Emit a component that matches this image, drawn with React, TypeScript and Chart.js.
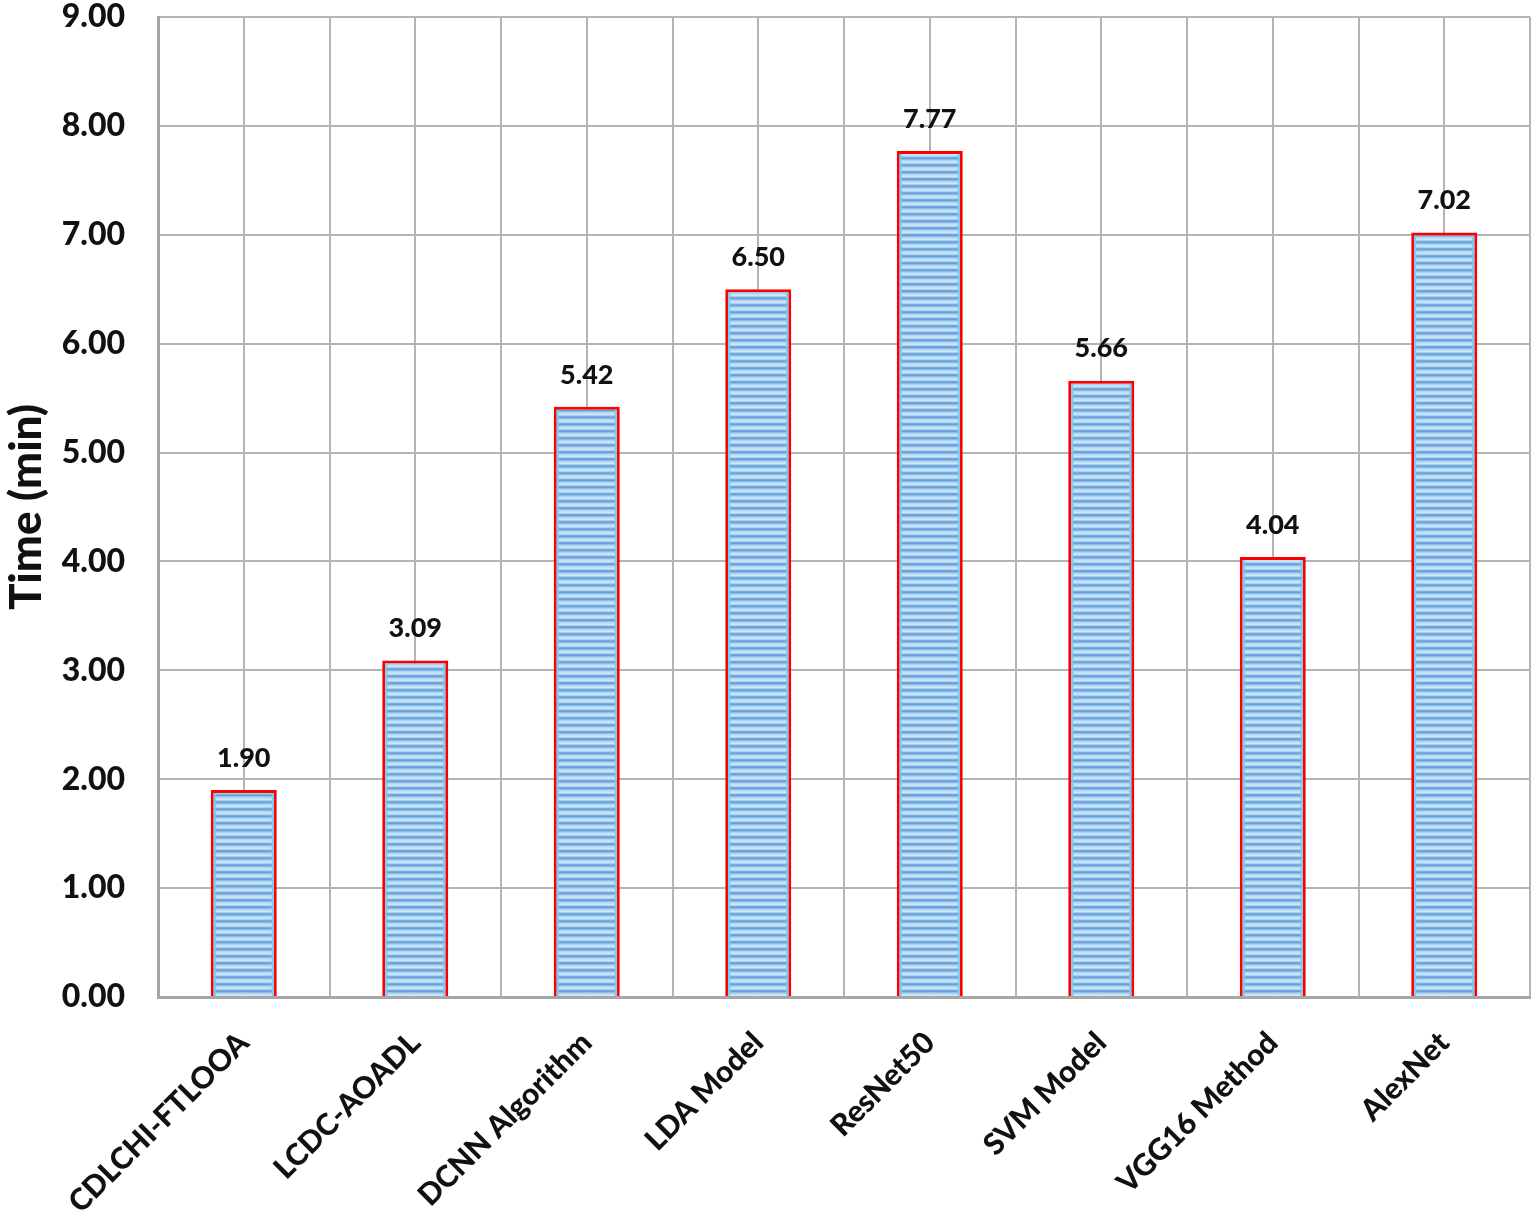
import React, { useEffect, useRef } from "react";
import { Chart, registerables } from "chart.js";

Chart.register(...registerables);

const categories = [
  "CDLCHI-FTLOOA",
  "LCDC-AOADL",
  "DCNN Algorithm",
  "LDA Model",
  "ResNet50",
  "SVM Model",
  "VGG16 Method",
  "AlexNet",
];
const timeValues = [1.9, 3.09, 5.42, 6.5, 7.77, 5.66, 4.04, 7.02];
const yTickMin = 0;
const yTickMax = 9;
const yTickStep = 1;
const yTitle = "Time (min)";

const FONT = "Lato, 'Open Sans', sans-serif";

function makeStripePattern(ctx: CanvasRenderingContext2D): CanvasPattern | string {
  const c = document.createElement("canvas");
  c.width = 4;
  c.height = 7;
  const p = c.getContext("2d");
  if (!p) return "#9cc6ec";
  const rows = ["#c0def6", "#d0e7fa", "#a6cdf0", "#7aaee2", "#65a0db", "#8cbce8", "#b3d6f3"];
  rows.forEach((col, i) => {
    p.fillStyle = col;
    p.fillRect(0, i, 4, 1);
  });
  const pat = ctx.createPattern(c, "repeat");
  return pat || "#9cc6ec";
}

const centerGridPlugin = {
  id: "centerGrid",
  beforeDatasetsDraw(chart: any) {
    const { ctx, chartArea, scales } = chart;
    const x = scales.x;
    ctx.save();
    ctx.strokeStyle = "#b4b4b4";
    ctx.lineWidth = 2;
    for (let i = 0; i < categories.length; i++) {
      const px = Math.round(x.getPixelForValue(i));
      ctx.beginPath();
      ctx.moveTo(px, chartArea.top);
      ctx.lineTo(px, chartArea.bottom);
      ctx.stroke();
    }
    ctx.restore();
  },
};

const valueLabelPlugin = {
  id: "valueLabels",
  afterDatasetsDraw(chart: any) {
    const { ctx } = chart;
    const meta = chart.getDatasetMeta(0);
    ctx.save();
    ctx.fillStyle = "#74cdf3";
    meta.data.forEach((bar: any) => {
      const left = bar.x - bar.width / 2;
      const right = bar.x + bar.width / 2;
      const h = bar.base - bar.y - 3;
      ctx.fillRect(left + 3, bar.y + 3, 2, h);
      ctx.fillRect(right - 5, bar.y + 3, 2, h);
    });
    ctx.font = `900 27px ${FONT}`;
    ctx.fillStyle = "#111111";
    ctx.textAlign = "center";
    ctx.textBaseline = "middle";
    meta.data.forEach((bar: any, i: number) => {
      const v = chart.data.datasets[0].data[i] as number;
      ctx.fillText(v.toFixed(2), bar.x, bar.y - 32);
    });
    ctx.restore();
  },
};

export default function App() {
  const canvasRef = useRef<HTMLCanvasElement | null>(null);

  useEffect(() => {
    document.body.style.margin = "0";
    const canvas = canvasRef.current;
    if (!canvas) return;
    const ctx = canvas.getContext("2d");
    if (!ctx) return;
    const pattern = makeStripePattern(ctx);

    const chart = new Chart(canvas, {
      type: "bar",
      data: {
        labels: categories,
        datasets: [
          {
            data: timeValues,
            backgroundColor: pattern as any,
            borderColor: "#ff0000",
            borderWidth: 3,
            borderSkipped: "bottom",
            categoryPercentage: 1,
            barPercentage: 0.385,
          },
        ],
      },
      options: {
        responsive: false,
        animation: false,
        events: [],
        layout: { padding: { top: 17, right: 5, left: 0, bottom: 0 } },
        plugins: {
          legend: { display: false },
          tooltip: { enabled: false },
          title: { display: false },
        },
        scales: {
          x: {
            grid: {
              display: true,
              offset: true,
              color: "#b4b4b4",
              lineWidth: 2,
              drawTicks: false,
            },
            border: { display: true, color: "#a6a6a6", width: 3 },
            ticks: {
              color: "#111111",
              font: { family: FONT, size: 30, weight: "900" },
              minRotation: 45,
              maxRotation: 45,
              padding: 28,
              autoSkip: false,
            },
            afterFit(scale: any) {
              scale.height = 224;
              scale.paddingTop = 0;
              scale.paddingBottom = 0;
              scale.paddingLeft = 0;
              scale.paddingRight = 0;
            },
          },
          y: {
            min: yTickMin,
            max: yTickMax,
            grid: {
              color: "#b4b4b4",
              lineWidth: 2,
              drawTicks: false,
            },
            border: { display: true, color: "#a6a6a6", width: 3 },
            ticks: {
              stepSize: yTickStep,
              color: "#111111",
              font: { family: FONT, size: 32, weight: "900" },
              padding: 33,
              callback: (v: any) => Number(v).toFixed(2),
            },
            title: {
              display: true,
              text: yTitle,
              color: "#111111",
              font: { family: FONT, size: 44, weight: "900" },
              padding: { top: 0, bottom: 0 },
            },
            afterFit(scale: any) {
              scale.width = 158;
              scale.paddingTop = 0;
              scale.paddingBottom = 0;
            },
          },
        },
      },
      plugins: [centerGridPlugin, valueLabelPlugin],
    });

    return () => {
      chart.destroy();
    };
  }, []);

  return (
    <div style={{ width: 1535, height: 1221, background: "#ffffff" }}>
      <canvas ref={canvasRef} width={1535} height={1221} style={{ display: "block" }} />
    </div>
  );
}
